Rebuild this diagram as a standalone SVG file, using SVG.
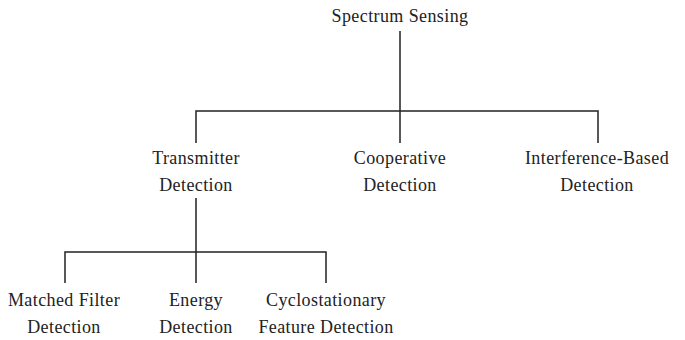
<svg xmlns="http://www.w3.org/2000/svg" width="685" height="340" viewBox="0 0 685 340">
<style>
text{font-family:"Liberation Serif","Times New Roman",serif;font-size:18px;letter-spacing:0.4px;fill:#222;text-anchor:middle}
.c{stroke:#222;stroke-width:1.5;fill:none}
</style>
<rect width="685" height="340" fill="#fff"/>
<g id="connectors">
<path class="c" d="M400 31V143M196 143V111H598V143"/>
<path class="c" d="M196 198V283M65 283V252H326V283"/>
</g>
<g id="spectrum"><text x="400" y="22">Spectrum Sensing</text></g>
<g id="transmitter"><text x="196" y="164">Transmitter</text><text x="196" y="191">Detection</text></g>
<g id="cooperative"><text x="400" y="164">Cooperative</text><text x="400" y="191">Detection</text></g>
<g id="interference"><text x="597" y="164">Interference-Based</text><text x="597" y="191">Detection</text></g>
<g id="matched"><text x="64" y="306">Matched Filter</text><text x="64" y="333">Detection</text></g>
<g id="energy"><text x="196" y="306">Energy</text><text x="196" y="333">Detection</text></g>
<g id="cyclo"><text x="326" y="306">Cyclostationary</text><text x="326" y="333">Feature Detection</text></g>
</svg>
